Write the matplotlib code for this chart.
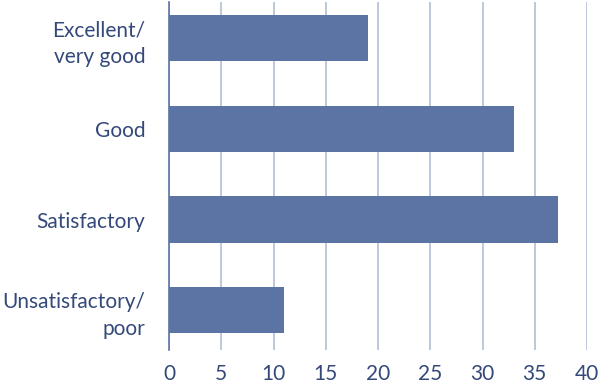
import matplotlib
matplotlib.use("Agg")
import matplotlib.pyplot as plt

categories = ["Excellent/\nvery good", "Good", "Satisfactory", "Unsatisfactory/\npoor"]
values = [19.0, 33.0, 37.2, 11.0]
xticks = [0, 5, 10, 15, 20, 25, 30, 35, 40]

plt.rcParams['font.family'] = ['Lato', 'DejaVu Sans']
text_color = "#34497a"
bar_color = "#5b74a3"

fig = plt.figure(figsize=(6.01, 3.83), dpi=100)
ax = fig.add_axes([169/601, 1-350/383, (587-169)/601, 348/383])

n = len(categories)
ypos = list(range(n - 1, -1, -1))
ax.barh(ypos, values, height=0.51, color=bar_color, zorder=3)
ax.set_xlim(0, 40)
ax.set_ylim(-0.44, 3.40)
ax.set_xticks(xticks)
ax.set_xticklabels([str(t) for t in xticks])
ax.set_yticks(ypos)
ax.set_yticklabels(categories, ha="right", linespacing=1.4)
ax.tick_params(axis="both", length=0, labelsize=15, colors=text_color)
ax.tick_params(axis="x", pad=10)
ax.tick_params(axis="y", pad=17)
ax.grid(axis="x", color="#b3bfd8", linewidth=1.2, zorder=0)
ax.set_axisbelow(True)
for s in ["top", "right", "bottom"]:
    ax.spines[s].set_visible(False)
ax.spines["left"].set_color(bar_color)
ax.spines["left"].set_linewidth(1.2)
ax.spines["left"].set_zorder(4)

fig.savefig("out.png", dpi=100)
